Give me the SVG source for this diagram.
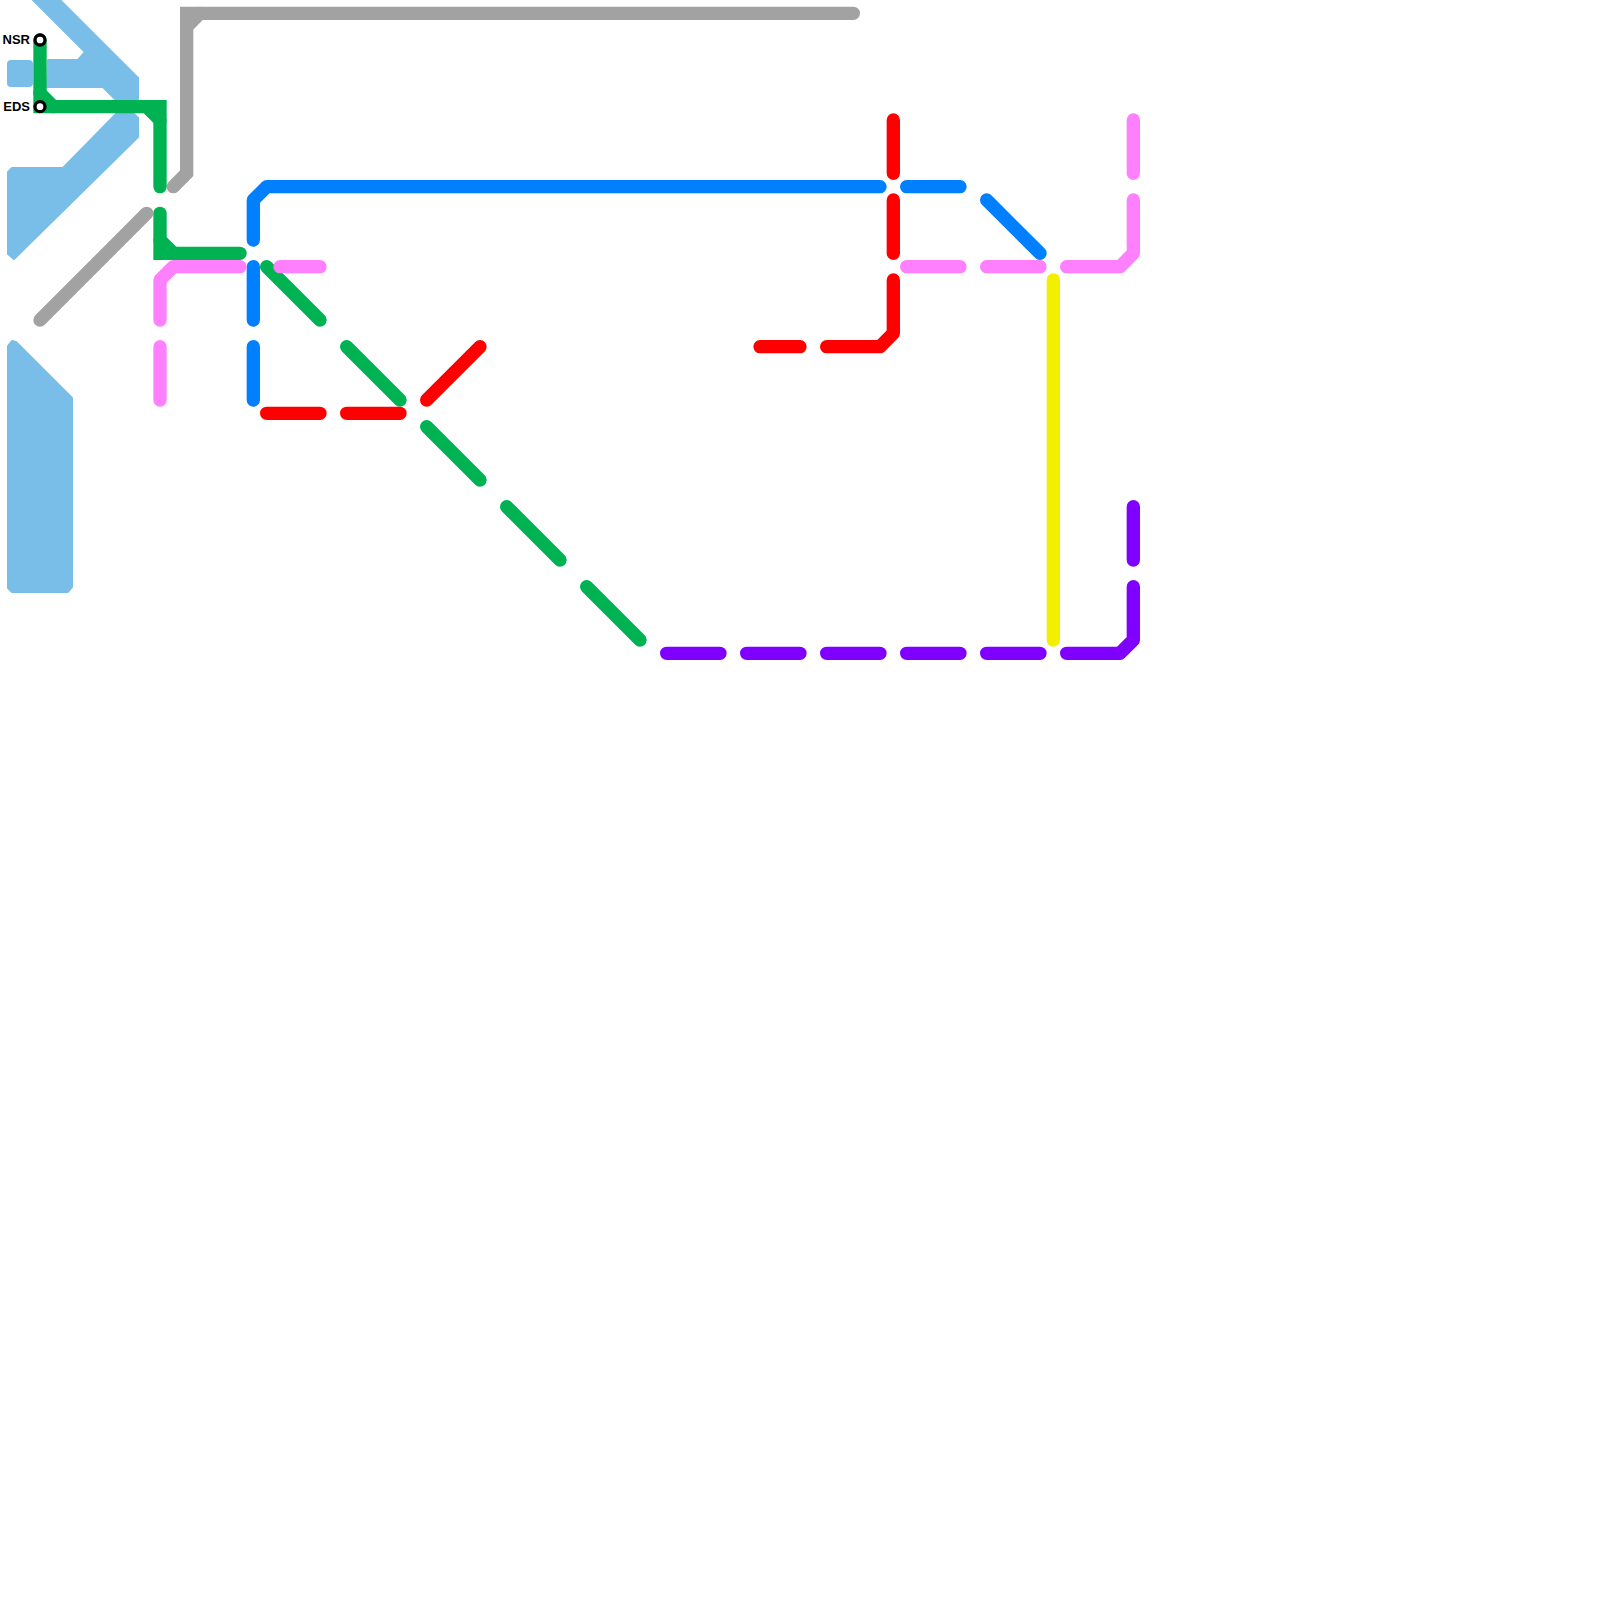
<svg xmlns="http://www.w3.org/2000/svg" width="1600" height="1600" viewBox="0 0 1600 1600">
  <style>
    .ln{fill:none;stroke-width:1;stroke-linecap:round;stroke-linejoin:round}
    .sq{stroke-linejoin:miter}
    .gray{stroke:#a2a2a2}
    .green{stroke:#00b251}
    .blue{stroke:#0080ff}
    .red{stroke:#ff0000}
    .pink{stroke:#ff80ff}
    .yellow{stroke:#f0f000}
    .purple{stroke:#8000ff}
    .water{fill:#79bde9;stroke:#79bde9;stroke-width:2;stroke-linejoin:round}
    .stn{fill:#ffffff;stroke:#000000;stroke-width:3.3}
    .lbl{font-family:"Liberation Sans",Arial,sans-serif;font-weight:bold;font-size:13px;fill:#000000;text-anchor:end}
  </style>
  <rect x="0" y="0" width="1600" height="1600" fill="#ffffff"/>
  <g id="water">
    <path class="water" d="M33,0 L85,52 L78,60 L48,60 L47,87 L103,87 L115,99 L138,99 L138,78 L60,0 Z"/>
    <rect class="water" x="8" y="61" width="24" height="25" rx="3"/>
    <path class="water" d="M117,113 L133,113 L138,118 L138,137 L14,259 L8,254 L8,172 L12,168 L63,168 Z"/>
    <path class="water" d="M8,346 L12,341 L16,342 L72,398 L72,587 L68,592 L12,592 L8,588 Z"/>
  </g>
  <g id="connectors" transform="scale(13.33333)">
    <g id="line-gray">
      <path class="ln gray sq" d="M13,14 L14,13 L14,1 L64,1"/>
      <path class="ln gray" d="M14,2 L15,1"/>
      <path class="ln gray" d="M11,16 L3,24"/>
    </g>
    <g id="line-green">
      <path class="ln green sq" d="M3,3 L3,8 L12,8 L12,14"/>
      <path class="ln green" d="M3,7 L4,8 M11,8 L12,9"/>
      <path class="ln green sq" d="M12,16 L12,19 L18,19"/>
      <path class="ln green" d="M12,18 L13,19"/>
      <path class="ln green" d="M20,20 L24,24 M26,26 L30,30 M32,32 L36,36 M38,38 L42,42 M44,44 L48,48"/>
    </g>
    <g id="line-blue">
      <path class="ln blue" d="M19,18 L19,15 L20,14 L66,14"/>
      <path class="ln blue" d="M68,14 L72,14 M74,15 L78,19 M19,20 L19,24 M19,26 L19,30"/>
    </g>
    <g id="line-red">
      <path class="ln red" d="M67,9 L67,13 M67,15 L67,19"/>
      <path class="ln red" d="M67,21 L67,25 L66,26 L62,26"/>
      <path class="ln red" d="M60,26 L57,26 M32,30 L36,26 M20,31 L24,31 M26,31 L30,31"/>
    </g>
    <g id="line-pink">
      <path class="ln pink" d="M12,24 L12,21 L13,20 L18,20"/>
      <path class="ln pink" d="M21,20 L24,20 M12,26 L12,30 M68,20 L72,20 M74,20 L78,20 M85,9 L85,13"/>
      <path class="ln pink" d="M80,20 L84,20 L85,19 L85,15"/>
    </g>
    <g id="line-yellow">
      <path class="ln yellow" d="M79,21 L79,48"/>
    </g>
    <g id="line-purple">
      <path class="ln purple" d="M50,49 L54,49 M56,49 L60,49 M62,49 L66,49 M68,49 L72,49 M74,49 L78,49 M85,38 L85,42"/>
      <path class="ln purple" d="M80,49 L84,49 L85,48 L85,44"/>
    </g>
  </g>
  <g id="station-NSR">
    <circle class="stn" cx="40" cy="40" r="5"/>
    <text class="lbl" x="30" y="44">NSR</text>
  </g>
  <g id="station-EDS">
    <circle class="stn" cx="40" cy="106.67" r="5"/>
    <text class="lbl" x="30" y="110.5">EDS</text>
  </g>
</svg>
